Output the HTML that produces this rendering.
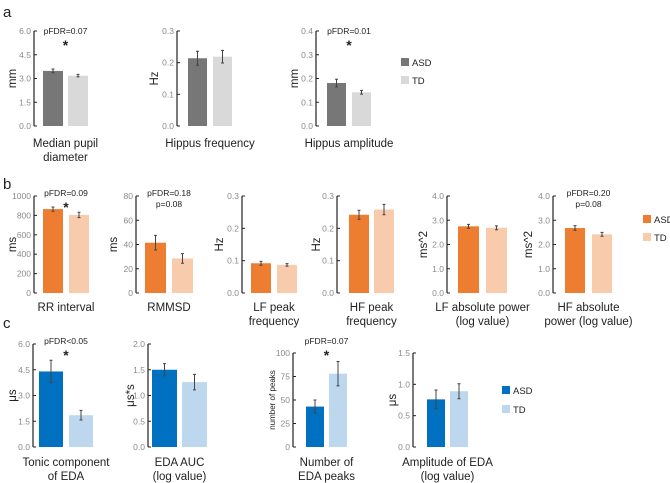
<!DOCTYPE html>
<html><head><meta charset="utf-8">
<style>
body{margin:0;background:#fff;}
svg{display:block;font-family:"Liberation Sans",sans-serif;}
.tick{font-size:8.5px;fill:#8a8a8a;}
.ttl{font-size:11.5px;fill:#222;}
.ylab{font-size:11.5px;fill:#222;}
.ann{font-size:8.5px;fill:#222;}
</style></head>
<body>
<svg id="fig" width="670" height="483" viewBox="0 0 670 483">
<text x="3" y="17" font-size="15" fill="#222">a</text>
<text x="3" y="189" font-size="15" fill="#222">b</text>
<text x="3" y="328" font-size="15" fill="#222">c</text>
</svg>
<script>
// ---- data ----
const titlesA = [["Median pupil","diameter"],["Hippus frequency"],["Hippus amplitude"]];
const asdA = [3.48, 0.214, 0.181];
const tdA = [3.18, 0.219, 0.142];
const asdErrA = [0.12, 0.022, 0.016];
const tdErrA = [0.08, 0.02, 0.008];
const ticksA = [["0.0","1.5","3.0","4.5","6.0"],["0.0","0.1","0.2","0.3"],["0.0","0.1","0.2","0.3","0.4"]];
const maxA = [6, 0.3, 0.4];

const titlesB = [["RR interval"],["RMMSD"],["LF peak","frequency"],["HF peak","frequency"],["LF absolute power","(log value)"],["HF absolute","power (log value)"]];
const asdB = [865, 41.5, 0.092, 0.242, 2.75, 2.68];
const tdB = [805, 28.5, 0.087, 0.258, 2.69, 2.42];
const asdErrB = [22, 6, 0.006, 0.014, 0.08, 0.1];
const tdErrB = [28, 4, 0.004, 0.016, 0.08, 0.08];
const ticksB = [["0","200","400","600","800","1000"],["0","20","40","60","80"],["0.0","0.1","0.2","0.3"],["0.0","0.1","0.2","0.3"],["0.0","1.0","2.0","3.0","4.0"],["0.0","1.0","2.0","3.0","4.0"]];
const maxB = [1000, 80, 0.3, 0.3, 4, 4];

const titlesC = [["Tonic component","of EDA"],["EDA AUC","(log value)"],["Number of","EDA peaks"],["Amplitude of EDA","(log value)"]];
const asdC = [4.4, 1.5, 43, 0.76];
const tdC = [1.85, 1.26, 78, 0.89];
const asdErrC = [0.65, 0.12, 7, 0.15];
const tdErrC = [0.28, 0.15, 13, 0.12];
const ticksC = [["0.0","1.5","3.0","4.5","6.0"],["0.0","0.5","1.0","1.5","2.0"],["0","25","50","75","100"],["0.0","0.5","1.0","1.5"]];
const maxC = [6, 2, 100, 1.5];

// ---- layout ----
const svg = document.getElementById('fig');
const NS = 'http://www.w3.org/2000/svg';
function mk(tag, attrs, parent){
  const e = document.createElementNS(NS, tag);
  for (const k in attrs) e.setAttribute(k, attrs[k]);
  (parent||svg).appendChild(e);
  return e;
}

const rows = [
  {titles:titlesA, asd:asdA, td:tdA, ea:asdErrA, et:tdErrA, ticks:ticksA, max:maxA,
   c1:'#777777', c2:'#d9d9d9', top:[31,31,31], bot:126, ttlY:143,
   ax:[34,177,316], b1:[43,188,327], b2:[68,213,352], bw:[20,19,19],
   ylab:[["mm",12],["Hz",154],["mm",294]],
   ann:{0:["pFDR=0.07","*"],2:["pFDR=0.01","*"]}, annY:31, legend:[401,62,80], key:'a'},
  {titles:titlesB, asd:asdB, td:tdB, ea:asdErrB, et:tdErrB, ticks:ticksB, max:maxB,
   c1:'#ed7d31', c2:'#f8cbad', top:[196,196,196,196,196,196], bot:293, ttlY:307,
   ax:[34,136,242,337,447,553], b1:[43,145,251,349,458,565], b2:[69,172,277,374,486,592], bw:[20,21,20,20,21,20],
   ylab:[["ms",12],["ms",113],["Hz",219],["Hz",316],["ms^2",423],["ms^2",528]],
   ann:{0:["pFDR=0.09","*"],1:["pFDR=0.18","p=0.08"],5:["pFDR=0.20","p=0.08"]}, annY:193, legend:[643,219,237], key:'b'},
  {titles:titlesC, asd:asdC, td:tdC, ea:asdErrC, et:tdErrC, ticks:ticksC, max:maxC,
   c1:'#0070c0', c2:'#bdd7ee', top:[344,344,353,353], bot:447, ttlY:462,
   ax:[33,148,293,413], b1:[39,152,306,427], b2:[69,182,329,450], bw:[24,25,18,18],
   ylab:[["μs",12],["μs*s",130],["number of peaks",272],["μs",392]],
   ann:{0:["pFDR<0.05","*"],2:["pFDR=0.07","*"]}, annY:341, legend:[502,390,409], key:'c'}
];

rows.forEach(r=>{
  r.titles.forEach((t,i)=>{
    const g = mk('g',{});
    
    
    const top = r.top[i], bot = r.bot, x0 = r.ax[i];
    const y = v => bot - v / r.max[i] * (bot - top);
    const axis = mk('line',{x1:x0,x2:x0,y1:top,y2:bot,stroke:'#222','stroke-width':1.2},g);
    
    
    const n = r.ticks[i].length;
    r.ticks[i].forEach((lab,k)=>{
      const v = r.max[i]*k/(n-1);
      const yy = y(v);
      mk('line',{x1:x0,x2:x0+3,y1:yy,y2:yy,stroke:'#222','stroke-width':1},g);
      const tx = mk('text',{x:x0-3,y:yy+3,'text-anchor':'end',class:'tick'},g);
      tx.textContent = lab;
      
      
    });
    [[r.asd[i],r.ea[i],r.b1[i],r.c1,'asd'],[r.td[i],r.et[i],r.b2[i],r.c2,'td']].forEach(([v,e,bx,c,nm])=>{
      const w = r.bw[i];
      const b = mk('rect',{x:bx,y:y(v),width:w,height:bot-y(v),fill:c},g);
      
      
      const cx = bx + w/2;
      const eb = mk('path',{d:`M${cx},${y(v+e)}V${y(v-e)}M${cx-1.5},${y(v+e)}H${cx+1.5}M${cx-1.5},${y(v-e)}H${cx+1.5}`,stroke:'#444','stroke-width':1,fill:'none'},g);
      
      
    });
    const [yl, yx] = r.ylab[i];
    const small = yl.length > 6;
    const ym = (top+bot)/2;
    const ylt = mk('text',{x:yx,y:ym,'text-anchor':'middle',class:'ylab',transform:`rotate(-90 ${yx} ${ym})`,dy:'0.35em'},g);
    if (small) ylt.setAttribute('style','font-size:8px');
    ylt.textContent = yl;
    
    
    const cxT = (r.b1[i] + r.b2[i] + r.bw[i]) / 2;
    t.forEach((line,li)=>{
      const tt = mk('text',{x:cxT,y:r.ttlY+li*14+4,'text-anchor':'middle',class:'ttl'},g);
      tt.textContent = line;
      
      
    });
    if (r.ann[i]) {
      const [a1,a2] = r.ann[i];
      const at = mk('text',{x:cxT,y:r.annY+3,'text-anchor':'middle',class:'ann'},g);
      at.textContent = a1;
      
      
      const st = mk('text',{x:cxT,y:a2==='*'?r.annY+19:r.annY+14,'text-anchor':'middle',class:'ann'},g);
      if (a2==='*') st.setAttribute('style','font-size:14px;font-weight:bold');
      st.textContent = a2;
      
      
    }
  });
  const [lx, ly1, ly2] = r.legend;
  [[ly1,r.c1,'ASD'],[ly2,r.c2,'TD']].forEach(([ly,c,lab])=>{
    const lg = mk('g',{});
    
    
    mk('rect',{x:lx,y:ly-4,width:8,height:8,fill:c},lg);
    const lt = mk('text',{x:lx+11,y:ly+4,class:'ann',style:'font-size:9.5px'},lg);
    lt.textContent = lab;
  });
});
</script>
</body></html>
